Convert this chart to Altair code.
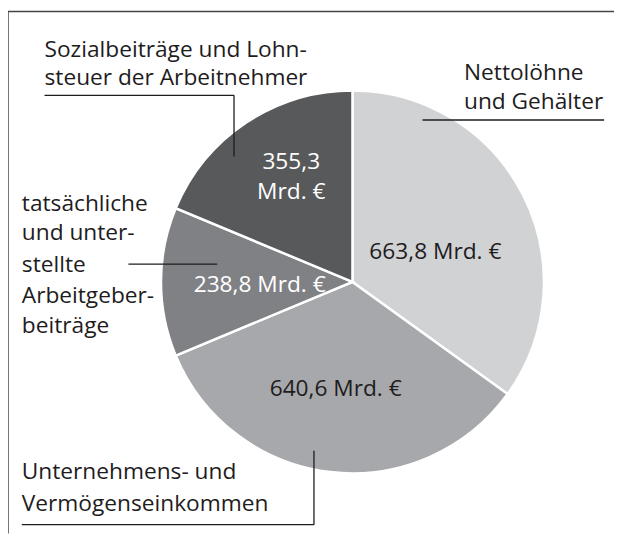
import altair as alt
import pandas as pd

categories = ["Nettolöhne und Gehälter", "Unternehmens- und Vermögenseinkommen",
              "tatsächliche und unterstellte Arbeitgeberbeiträge",
              "Sozialbeiträge und Lohnsteuer der Arbeitnehmer"]
values = [663.8, 640.6, 238.8, 355.3]
order = [1, 2, 3, 4]
colors = ["#d1d2d4", "#a7a8ab", "#808185", "#58595b"]

df = pd.DataFrame({"cat": categories, "val": values, "ord": order})

W, H = 614, 529
CX, CY, R = 349, 274, 194
FONT = "Open Sans"
FS = 23
DARK = "#1e1c1d"

pie = alt.Chart(df).mark_arc(outerRadius=R, stroke="white", strokeWidth=2.5).encode(
    theta=alt.Theta("val:Q", stack=True),
    order=alt.Order("ord:Q"),
    color=alt.Color("cat:N", scale=alt.Scale(domain=categories, range=colors), legend=None),
    x=alt.value(CX), y=alt.value(CY),
)

one = alt.Data(values=[{"a": 1}])

def rule(x1, y1, x2, y2, color=DARK, w=1.3):
    return alt.Chart(one).mark_rule(color=color, strokeWidth=w).encode(
        x=alt.value(x1), y=alt.value(y1), x2=alt.value(x2), y2=alt.value(y2))

def txt(s, x, y, align="left", color=DARK):
    return alt.Chart(one).mark_text(text=s, align=align, baseline="middle", font=FONT,
                                    fontSize=FS, color=color).encode(
        x=alt.value(x), y=alt.value(y))

layers = [pie,
          rule(0, 0, W, 0, "#444444", 1.5),
          rule(0, 0, 0, H, "#444444", 1.5),
          # Sozialbeiträge label
          txt("Sozialbeiträge und Lohn-", 37, 39),
          txt("steuer der Arbeitnehmer", 37, 68),
          rule(37, 85, 229, 85),
          rule(229, 85, 229, 147),
          # Nettolöhne
          txt("Nettolöhne", 462, 62),
          txt("und Gehälter", 462, 92),
          rule(420, 110, 604, 110),
          # tatsächliche
          txt("tatsächliche", 14, 195),
          txt("und unter-", 14, 225),
          txt("stellte", 14, 257),
          txt("Arbeitgeber-", 14, 288),
          txt("beiträge", 14, 319),
          rule(122, 256, 212, 256),
          # Unternehmens
          txt("Unternehmens- und", 14, 467),
          txt("Vermögenseinkommen", 14, 499),
          rule(14, 520, 310, 520),
          rule(310, 445, 310, 520),
          # value labels
          txt("355,3", 287, 153, "center", "white"),
          txt("Mrd. €", 287, 183, "center", "white"),
          txt("238,8 Mrd. €", 255, 277, "center", "white"),
          txt("663,8 Mrd. €", 433, 244, "center"),
          txt("640,6 Mrd. €", 332, 383, "center"),
          ]

chart = alt.layer(*layers).properties(
    width=W, height=H, padding=0, autosize=alt.AutoSizeParams(type="none")
).configure_view(stroke=None)

chart.save("out.html", embed_options={"renderer": "svg", "actions": False})
